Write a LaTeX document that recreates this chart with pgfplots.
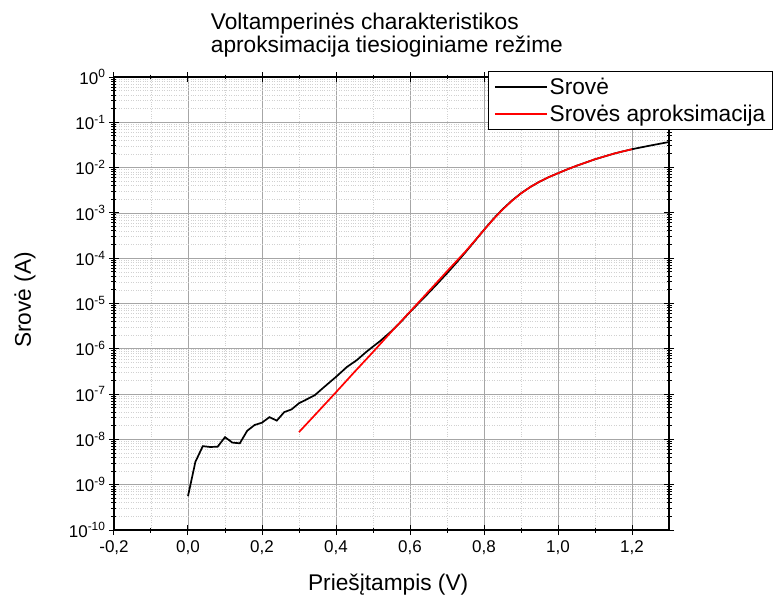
\documentclass[border=0pt]{standalone}
\usepackage{fontspec}
\setmainfont{Liberation Sans}
\usepackage{pgfplots}
\pgfplotsset{compat=1.18}
\begin{document}
\begin{tikzpicture}
\begin{axis}[
  at={(0,0)}, anchor=south west,
  scale only axis, width=555bp, height=453bp,
  ymode=log, xmin=-0.2, xmax=1.3, ymin=1e-10, ymax=1,
  xtick={-0.2,0,0.2,0.4,0.6,0.8,1.0,1.2},
  xticklabels={{-0,2},{0,0},{0,2},{0,4},{0,6},{0,8},{1,0},{1,2}},
  minor x tick num=1,
  ytickten={-10,-9,-8,-7,-6,-5,-4,-3,-2,-1,0},
  yticklabel={\pgfmathtruncatemacro{\ex}{round(\tick/2.302585093)}10\textsuperscript{\ex}},
  grid=both,
  major grid style={draw=black!35, line width=0.8bp},
  minor grid style={draw=black!18, dotted, line width=0.6bp},
  axis line style={line width=1.2bp},
  tick style={black, line width=1bp},
  tick align=center, major tick length=10bp, minor tick length=5bp,
  ticklabel style={font=\fontsize{17bp}{19bp}\selectfont},
  xticklabel style={yshift=-2bp},
  xlabel={Priešįtampis (V)},
  ylabel={Srovė (A)},
  label style={font=\fontsize{22.7bp}{27bp}\selectfont},
  x label style={at={(axis description cs:0.494,0)}, anchor=base, yshift=-60bp},
  y label style={at={(axis description cs:-0.1604,0.508)}, anchor=center},
  legend style={at={(axis description cs:0.674,1.013)}, anchor=north west,
    draw=black, line width=0.8bp, fill=white,
    font=\fontsize{22.7bp}{27bp}\selectfont, inner xsep=5.5bp, inner ysep=2bp,
    nodes={minimum height=27bp}},
  legend cell align=left,
  legend image code/.code={\draw[#1] (0bp,0bp) -- (52bp,0bp);},
]
\addplot[draw=black, line width=1.7bp] table {
x y
0.00 5.6e-10
0.02 3.2e-9
0.04 7.1e-9
0.06 6.8e-9
0.08 6.9e-9
0.10 1.12e-8
0.12 8.5e-9
0.14 8.2e-9
0.16 1.55e-8
0.18 2.08e-8
0.20 2.34e-8
0.22 3.1e-8
0.24 2.6e-8
0.26 4.0e-8
0.28 4.6e-8
0.30 6.3e-8
0.32 7.6e-8
0.343 9.5e-8
0.36 1.26e-7
0.38 1.74e-7
0.40 2.4e-7
0.43 4.0e-7
0.456 5.6e-7
0.48 8.3e-7
0.50 1.12e-6
0.52 1.5e-6
0.546 2.3e-6
0.575 3.9e-6
0.60 6.5e-6
0.625 1.053e-5
0.65 1.703e-5
0.675 2.796e-5
0.70 4.65e-5
0.725 7.88e-5
0.75 1.357e-4
0.775 2.385e-4
0.80 4.23e-4
0.825 7.31e-4
0.85 1.199e-3
0.875 1.858e-3
0.90 2.716e-3
0.925 3.727e-3
0.95 4.887e-3
0.975 6.15e-3
1.00 7.52e-3
1.025 9.14e-3
1.05 1.096e-2
1.075 1.294e-2
1.10 1.528e-2
1.125 1.758e-2
1.15 2.023e-2
1.175 2.275e-2
1.20 2.547e-2
1.25 3.076e-2
1.30 3.673e-2
};
\addlegendentry{Srovė}
\addplot[draw=red, line width=1.7bp] table {
x y
0.30 1.45e-8
0.35 3.98e-8
0.40 1.10e-7
0.45 3.09e-7
0.50 8.5e-7
0.55 2.4e-6
0.60 6.6e-6
0.65 1.84e-5
0.70 5.13e-5
0.725 8.5e-5
0.75 1.41e-4
0.775 2.43e-4
0.80 4.2e-4
0.825 7.2e-4
0.85 1.18e-3
0.875 1.83e-3
0.90 2.69e-3
0.925 3.72e-3
0.95 4.887e-3
0.975 6.15e-3
1.00 7.52e-3
1.025 9.14e-3
1.05 1.096e-2
1.075 1.294e-2
1.10 1.528e-2
1.125 1.758e-2
1.15 2.023e-2
1.175 2.275e-2
1.20 2.547e-2
};
\addlegendentry{Srovės aproksimacija}
\end{axis}
\node[anchor=base west, font=\fontsize{22.7bp}{27bp}\selectfont, inner sep=0pt] at (96.7bp,500.5bp) {Voltamperinės charakteristikos};
\node[anchor=base west, font=\fontsize{22.7bp}{27bp}\selectfont, inner sep=0pt] at (96.7bp,477bp) {aproksimacija tiesioginiame režime};
\pgfresetboundingbox
\path[use as bounding box] (-114bp,-71bp) rectangle (661bp,530bp);
\end{tikzpicture}
\end{document}
